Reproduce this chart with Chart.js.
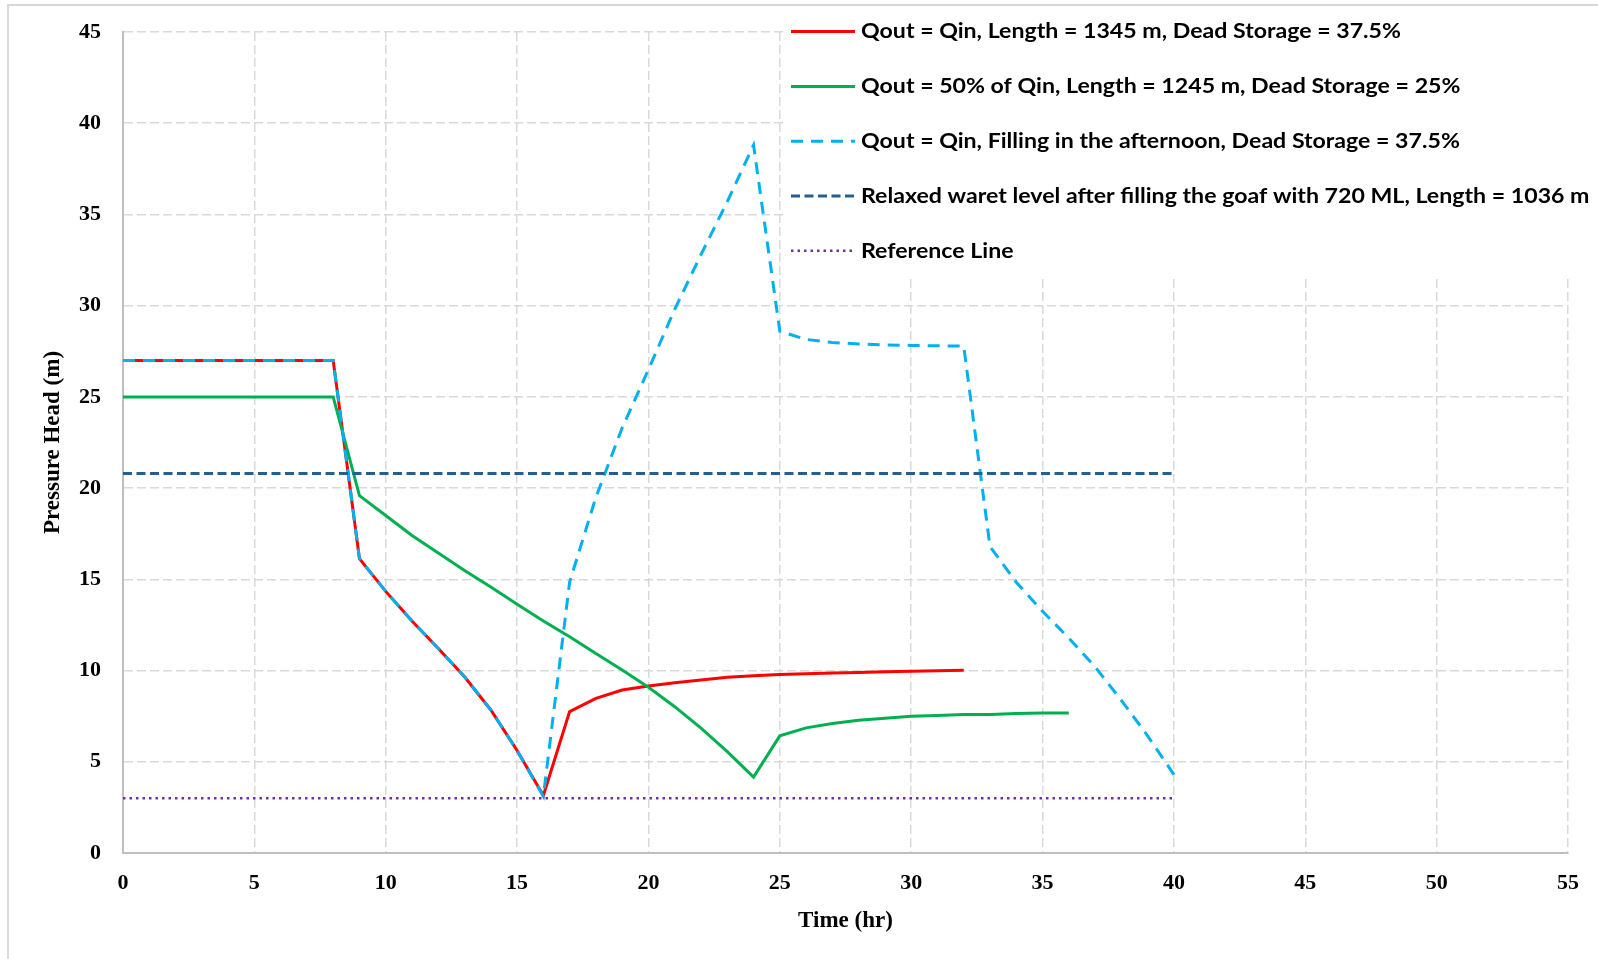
<!DOCTYPE html>
<html>
<head>
<meta charset="utf-8">
<script src="https://cdn.jsdelivr.net/npm/chart.js@4/dist/chart.umd.min.js"></script>
<style>
  html, body { margin: 0; padding: 0; background: #fff; }
  #wrap { width: 1598px; height: 959px; }
</style>
</head>
<body>
<div id="wrap"><canvas id="headChart" width="1598" height="959"></canvas></div>
<script>
// Time (hr) for each series
const hoursRed = [0,1,2,3,4,5,6,7,8,9,10,11,12,13,14,15,16,17,18,19,20,21,22,23,24,25,26,27,28,29,30,31,32];
const hoursGreen = [0,1,2,3,4,5,6,7,8,9,10,11,12,13,14,15,16,17,18,19,20,21,22,23,24,25,26,27,28,29,30,31,32,33,34,35,36];
const hoursBlue = [0,1,2,3,4,5,6,7,8,9,10,11,12,13,14,15,16,17,18,19,20,21,22,23,24,25,26,27,28,29,30,31,32,33,34,35,36,37,38,39,40];
const hoursFlat = [0, 40];

// Pressure head (m)
const headRed = [27,27,27,27,27,27,27,27,27,16.13,14.34,12.72,11.21,9.66,7.84,5.62,3.15,7.75,8.48,8.93,9.15,9.33,9.48,9.63,9.72,9.79,9.83,9.87,9.9,9.93,9.96,9.99,10.02];
const headGreen = [25,25,25,25,25,25,25,25,25,19.59,18.5,17.4,16.44,15.49,14.58,13.63,12.72,11.85,10.94,10.03,9.08,8.02,6.84,5.56,4.16,6.42,6.86,7.1,7.27,7.39,7.49,7.54,7.59,7.59,7.64,7.68,7.68];
const headBlue = [27,27,27,27,27,27,27,27,27,16.13,14.34,12.72,11.21,9.66,7.84,5.62,3.1,14.85,19.5,23.3,26.5,29.8,32.8,35.7,38.8,28.6,28.15,27.98,27.9,27.85,27.82,27.8,27.78,16.8,14.84,13.25,11.78,10.2,8.37,6.42,4.3];
const headRelaxed = [20.8, 20.8];
const headReference = [3, 3];

const seriesLabels = [
  'Qout = Qin, Length = 1345 m, Dead Storage = 37.5%',
  'Qout = 50% of Qin, Length = 1245 m, Dead Storage = 25%',
  'Qout = Qin, Filling in the afternoon, Dead Storage = 37.5%',
  'Relaxed waret level after filling the goaf with 720 ML, Length = 1036 m',
  'Reference Line'
];

const xTicks = [0,5,10,15,20,25,30,35,40,45,50,55];
const yTicks = [0,5,10,15,20,25,30,35,40,45];

function pts(xs, ys) {
  return xs.map((x, i) => ({ x: x, y: ys[i] }));
}

const tickFont = { family: 'Liberation Serif', size: 22, weight: 'bold' };
const titleFont = { family: 'Liberation Serif', size: 23, weight: 'bold' };

// outer frame of the chart picture
const framePlugin = {
  id: 'frame',
  beforeDraw(chart) {
    const ctx = chart.ctx;
    ctx.save();
    ctx.fillStyle = '#fff';
    ctx.fillRect(0, 0, chart.width, chart.height);
    ctx.strokeStyle = '#d9d9d9';
    ctx.lineWidth = 2;
    ctx.strokeRect(8, 5, 1700, 1000);
    ctx.restore();
  }
};

// legend box sitting inside the plot, top right
const boxLegend = {
  id: 'boxLegend',
  afterDraw(chart) {
    const ctx = chart.ctx;
    ctx.save();
    ctx.fillStyle = '#fff';
    ctx.fillRect(783, 8, 900, 270);
    ctx.font = 'bold 21px Lato';
    ctx.textBaseline = 'middle';
    const squeeze = 540 / ctx.measureText(chart.data.datasets[0].label).width;
    chart.data.datasets.forEach((ds, i) => {
      const y = 31.6 + i * 54.8;
      ctx.strokeStyle = ds.borderColor;
      ctx.lineWidth = ds.borderWidth;
      ctx.setLineDash(ds.borderDash || []);
      ctx.beginPath();
      ctx.moveTo(791, y);
      ctx.lineTo(855, y);
      ctx.stroke();
      ctx.save();
      ctx.translate(861, y);
      ctx.scale(squeeze, 1);
      ctx.fillStyle = '#000';
      ctx.fillText(ds.label, 0, 0);
      ctx.restore();
    });
    ctx.restore();
  }
};

const ctx = document.getElementById('headChart').getContext('2d');
const headChart = new Chart(ctx, {
  type: 'line',
  data: {
    datasets: [
      { label: seriesLabels[0], data: pts(hoursRed, headRed), borderColor: '#ff0000', borderWidth: 3, order: 5 },
      { label: seriesLabels[1], data: pts(hoursGreen, headGreen), borderColor: '#00b050', borderWidth: 3, order: 4 },
      { label: seriesLabels[2], data: pts(hoursBlue, headBlue), borderColor: '#00b0f0', borderWidth: 3, borderDash: [12, 8], order: 3 },
      { label: seriesLabels[3], data: pts(hoursFlat, headRelaxed), borderColor: '#255e91', borderWidth: 3, borderDash: [9, 4.5], order: 2 },
      { label: seriesLabels[4], data: pts(hoursFlat, headReference), borderColor: '#7030a0', borderWidth: 2.5, borderDash: [2.5, 4], order: 1 }
    ]
  },
  options: {
    responsive: false,
    animation: false,
    events: [],
    layout: { padding: { left: 0, right: 30, top: 32, bottom: 0 } },
    elements: {
      point: { radius: 0 },
      line: { tension: 0, fill: false, borderCapStyle: 'butt' }
    },
    plugins: {
      legend: { display: false },
      tooltip: { enabled: false }
    },
    scales: {
      x: {
        type: 'linear',
        min: 0,
        max: 55,
        afterBuildTicks(scale) { scale.ticks = xTicks.map(v => ({ value: v })); },
        afterFit(scale) { scale.height = 106; },
        ticks: { autoSkip: false, maxRotation: 0, padding: 17, color: '#000', font: tickFont },
        grid: { color: '#d9d9d9', lineWidth: 1.5, drawTicks: false },
        border: { color: '#bfbfbf', width: 2, dash: [9, 4] },
        title: { display: true, text: 'Time (hr)', color: '#000', font: titleFont, padding: { top: 0, bottom: 24 } }
      },
      y: {
        type: 'linear',
        min: 0,
        max: 45,
        afterBuildTicks(scale) { scale.ticks = yTicks.map(v => ({ value: v })); },
        afterFit(scale) {
          scale.width = 123;
          scale.paddingTop = 0;
          scale.paddingBottom = 0;
        },
        ticks: { autoSkip: false, padding: 22, color: '#000', font: tickFont },
        grid: { color: '#d9d9d9', lineWidth: 1.5, drawTicks: false },
        border: { color: '#bfbfbf', width: 2, dash: [9, 4] },
        title: { display: true, text: 'Pressure Head (m)', color: '#000', font: titleFont, padding: { top: 39, bottom: 0 } }
      }
    }
  },
  plugins: [framePlugin, boxLegend]
});
</script>
</body>
</html>
